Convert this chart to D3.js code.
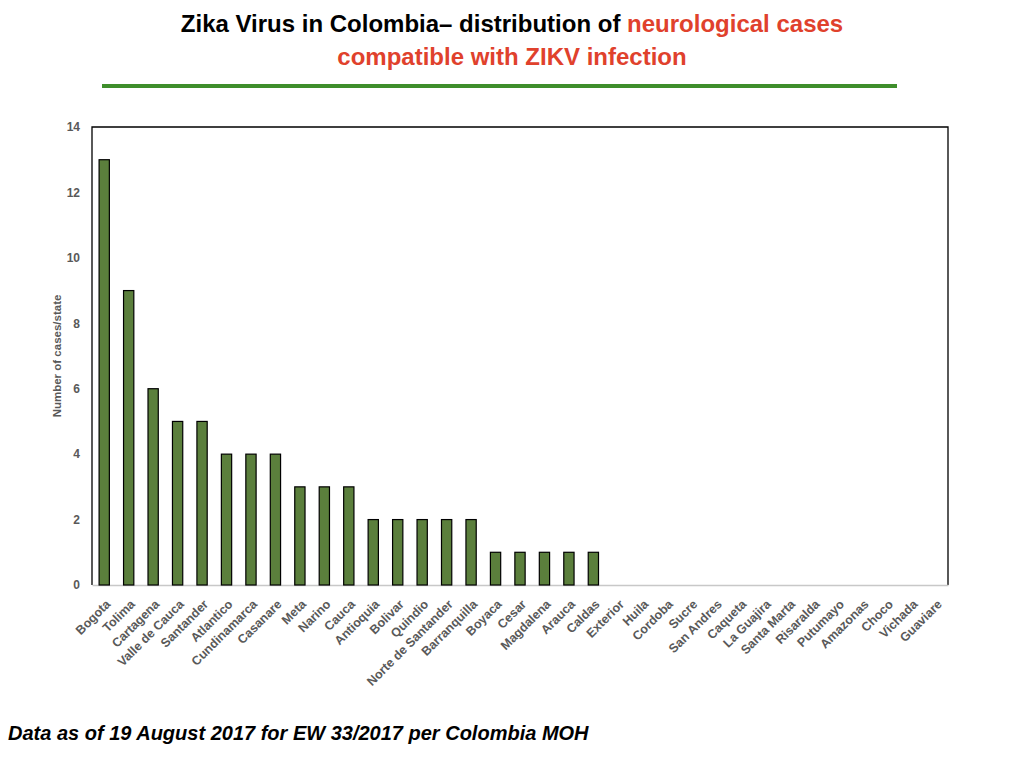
<!DOCTYPE html>
<html>
<head>
<meta charset="utf-8">
<script src="https://cdn.jsdelivr.net/npm/d3@7"></script>
<style>
  body { margin: 0; background: #fff; }
  text { font-family: "Liberation Sans", Arial, sans-serif; }
</style>
</head>
<body>
<div id="chart"></div>
<script>
// cases per state
var states = ["Bogota", "Tolima", "Cartagena", "Valle de Cauca", "Santander", "Atlantico",
  "Cundinamarca", "Casanare", "Meta", "Narino", "Cauca", "Antioquia", "Bolivar", "Quindio",
  "Norte de Santander", "Barranquilla", "Boyaca", "Cesar", "Magdalena", "Arauca", "Caldas",
  "Exterior", "Huila", "Cordoba", "Sucre", "San Andres", "Caqueta", "La Guajira",
  "Santa Marta", "Risaralda", "Putumayo", "Amazonas", "Choco", "Vichada", "Guaviare"];
var cases = [13, 9, 6, 5, 5, 4, 4, 4, 3, 3, 3, 2, 2, 2, 2, 2, 1, 1, 1, 1, 1,
  0, 0, 0, 0, 0, 0, 0, 0, 0, 0, 0, 0, 0, 0];
var yTicks = [0, 2, 4, 6, 8, 10, 12, 14];

var W = 1024, H = 768;
var margin = {top: 127, right: 76, bottom: 183, left: 92},
    width = W - margin.left - margin.right,
    height = H - margin.top - margin.bottom;

var svg = d3.select("#chart").append("svg")
    .attr("width", W)
    .attr("height", H);

// title
var t1 = svg.append("text")
    .attr("x", 512).attr("y", 32)
    .attr("text-anchor", "middle")
    .attr("font-size", "24px")
    .attr("font-weight", "bold");
t1.append("tspan").attr("fill", "#000").text("Zika Virus in Colombia\u2013  distribution of ");
t1.append("tspan").attr("fill", "#e0412c").text("neurological cases");

svg.append("text")
    .attr("x", 512).attr("y", 65)
    .attr("text-anchor", "middle")
    .attr("font-size", "24px")
    .attr("font-weight", "bold")
    .attr("fill", "#e0412c")
    .text("compatible with ZIKV infection");

svg.append("line")
    .attr("x1", 102).attr("x2", 897)
    .attr("y1", 86).attr("y2", 86)
    .attr("stroke", "#3e8e2b")
    .attr("stroke-width", 4);

var g = svg.append("g")
    .attr("transform", "translate(" + margin.left + "," + margin.top + ")");

var x = d3.scaleBand()
    .domain(states)
    .range([0, width])
    .paddingInner(0.58)
    .paddingOuter(0.29);

var y = d3.scaleLinear()
    .domain([0, 14])
    .range([height, 0]);

// frame
g.append("path")
    .attr("d", "M0," + height + "V0H" + width + "V" + height)
    .attr("fill", "none")
    .attr("stroke", "#000")
    .attr("stroke-width", 1.3);

// bottom axis
var xAxis = g.append("g")
    .attr("transform", "translate(0," + height + ")")
    .call(d3.axisBottom(x).tickSize(0));
xAxis.select(".domain").attr("stroke", "#c8c8c8").attr("stroke-width", 1.5);
xAxis.selectAll("text")
    .attr("font-size", "12.5px")
    .attr("font-weight", "bold")
    .attr("fill", "#595959")
    .attr("font-family", "Liberation Sans, Arial, sans-serif")
    .attr("text-anchor", "end")
    .attr("y", 0)
    .attr("dy", 0)
    .attr("transform", "translate(7,20) rotate(-45)");

// left ticks
var yAxis = g.append("g")
    .call(d3.axisLeft(y).tickValues(yTicks).tickSize(0).tickPadding(12));
yAxis.select(".domain").remove();
yAxis.selectAll("text")
    .attr("font-size", "12px")
    .attr("font-weight", "bold")
    .attr("fill", "#595959")
    .attr("font-family", "Liberation Sans, Arial, sans-serif");

svg.append("text")
    .attr("transform", "translate(61,356) rotate(-90)")
    .attr("text-anchor", "middle")
    .attr("font-size", "11.5px")
    .attr("font-weight", "bold")
    .attr("fill", "#595959")
    .text("Number of cases/state");

// bars
g.selectAll("rect.bar")
    .data(states.map(function(s, i) { return {state: s, value: cases[i]}; }))
    .enter()
    .append("rect")
    .attr("class", "bar")
    .attr("x", function(d) { return x(d.state); })
    .attr("width", x.bandwidth())
    .attr("y", function(d) { return y(d.value); })
    .attr("height", function(d) { return height - y(d.value); })
    .attr("fill", "#5b7f3c")
    .attr("stroke", "#000")
    .attr("stroke-width", 1.2);

// footer
svg.append("text")
    .attr("x", 8).attr("y", 740)
    .attr("font-size", "20px")
    .attr("font-weight", "bold")
    .attr("font-style", "italic")
    .text("Data as of 19 August 2017 for EW 33/2017 per Colombia MOH");
</script>
</body>
</html>
